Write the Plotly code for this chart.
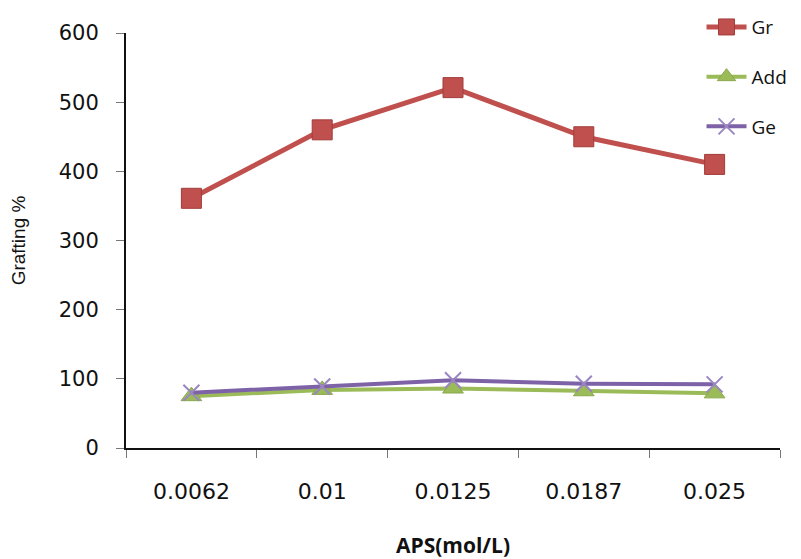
import plotly.graph_objects as go

categories = ["0.0062", "0.01", "0.0125", "0.0187", "0.025"]
gr = [361, 460, 521, 450, 410]
add = [75, 84, 86, 82, 79]
ge = [80, 89, 98, 93, 92]
y_ticks = [0, 100, 200, 300, 400, 500, 600]

fig = go.Figure()
fig.add_trace(go.Scatter(
    x=categories, y=gr, name="Gr", mode="lines+markers", legendgroup="a",
    line=dict(color="#C0504D", width=5),
    marker=dict(symbol="square", size=20, color="#C0504D", line=dict(color="#A03C3A", width=1)),
))
fig.add_trace(go.Scatter(
    x=categories, y=add, name="Add", mode="lines+markers", legendgroup="b",
    line=dict(color="#9BBB59", width=4),
    marker=dict(symbol="triangle-up", size=18, color="#9BBB59", line=dict(color="#8AA84C", width=1)),
))
fig.add_trace(go.Scatter(
    x=categories, y=ge, name="Ge", mode="lines+markers", legendgroup="c",
    line=dict(color="#7E62A8", width=4),
    marker=dict(symbol="x-thin", size=16, color="#9A86C0", line=dict(color="#9A86C0", width=2)),
))

fig.update_layout(
    width=793, height=551,
    margin=dict(l=118, r=21, t=25, b=111, autoexpand=False),
    paper_bgcolor="white", plot_bgcolor="white",
    font=dict(family="Liberation Sans, Arial, sans-serif", size=15, color="#111111"),
    showlegend=True,
    legend=dict(
        x=0.88, y=1.06, xanchor="left", yanchor="top",
        bgcolor="rgba(0,0,0,0)", tracegroupgap=22,
        font=dict(family="Open Sans, sans-serif", size=19, color="#111111"),
        itemwidth=40,
    ),
    xaxis=dict(
        type="category", range=[-0.5, 4.5], showline=True, linecolor="#111111", linewidth=2,
        ticks="outside", ticklen=8, tickcolor="#777777", showgrid=False,
        tickson="boundaries", zeroline=False, ticklabelstandoff=23,
        tickfont=dict(family="DejaVu Sans, sans-serif", size=22),
        title=dict(text="<b>APS(mol/L)</b>", standoff=35,
                   font=dict(family="Open Sans, sans-serif", size=21)),
    ),
    yaxis=dict(
        range=[0, 600], tickvals=y_ticks, showline=True, linecolor="#111111", linewidth=2,
        ticks="outside", ticklen=8, tickcolor="#777777", showgrid=False, zeroline=False,
        ticklabelstandoff=13,
        tickfont=dict(family="DejaVu Sans, sans-serif", size=21),
        title=dict(text="Grafting %", standoff=28,
                   font=dict(family="Liberation Sans, Arial, sans-serif", size=19)),
    ),
)

fig.write_html("out.html")
